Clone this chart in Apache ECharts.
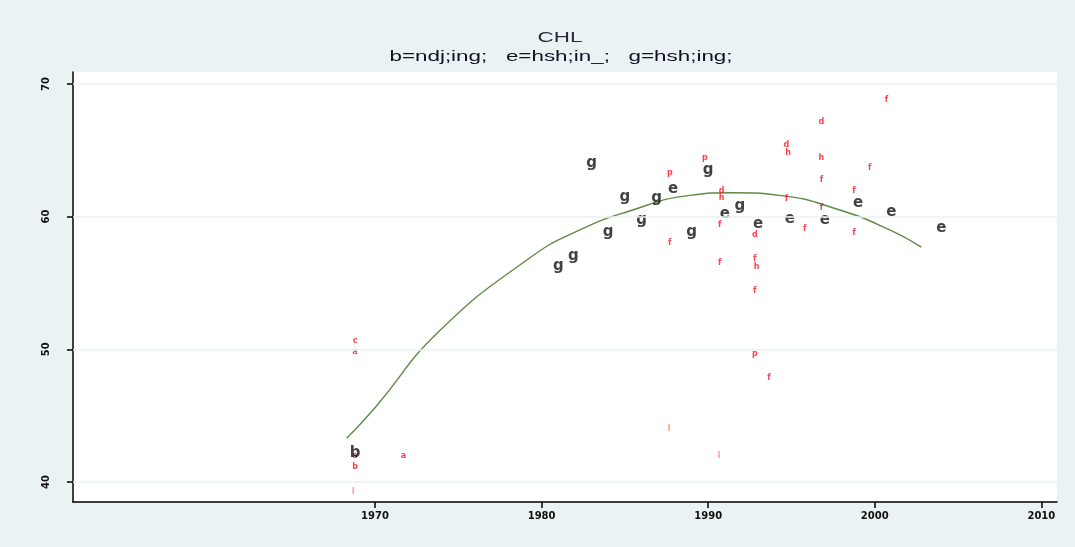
<!DOCTYPE html>
<html>
<head>
<meta charset="utf-8">
<script src="https://cdn.jsdelivr.net/npm/echarts@6/dist/echarts.min.js"></script>
<style>html,body{margin:0;padding:0;background:#fff}#c{width:1075px;height:547px}</style>
</head>
<body>
<div id="c"></div>
<script>
// Tick labels
const xTicks = [1970, 1980, 1990, 2000, 2010];
const yTicks = [40, 50, 60, 70];
const titleText = 'CHL';
const subtitleText = 'b=ndj;ing;   e=hsh;in_;   g=hsh;ing;';

// Large black letters
const ptsB = [[1968.8, 42.2]];
const ptsE = [[1987.9, 62.1], [1991.0, 60.2], [1993.0, 59.4], [1994.9, 59.8], [1997.0, 59.7], [1999.0, 61.0], [2001.0, 60.35], [2004.0, 59.15]];
const ptsG = [[1983.0, 64.0], [1985.0, 61.5], [1986.9, 61.4], [1984.0, 58.85], [1986.0, 59.75], [1981.0, 56.3], [1981.9, 57.0], [1989.0, 58.85], [1990.0, 63.5], [1991.9, 60.8]];

// Small red letters
const ptsRa = [[1968.8, 49.8], [1968.8, 42.0], [1971.7, 42.0]];
const ptsRb = [[1968.8, 41.1]];
const ptsRc = [[1968.8, 50.6]];
const ptsRd = [[1990.8, 61.9], [1992.8, 58.6], [1994.7, 65.4], [1996.8, 67.1]];
const ptsRh = [[1990.8, 61.4], [1992.9, 56.2], [1994.8, 64.8], [1996.8, 64.4]];
const ptsRp = [[1987.7, 63.3], [1989.8, 64.4], [1992.8, 49.65]];
const ptsRf = [[1987.7, 58.0], [1990.7, 59.4], [1990.7, 56.5], [1992.8, 56.8], [1992.8, 54.4], [1993.65, 47.85],
               [1994.7, 61.3], [1995.8, 59.1], [1996.8, 62.8], [1996.8, 60.65], [1998.75, 61.9], [1998.75, 58.8],
               [1999.7, 63.7], [2000.7, 68.8]];
const ptsRl = [[1968.7, 39.3], [1987.65, 44.0], [1990.65, 42.0]];

// Fitted curve
const fitLine = [[1968.3, 43.3], [1970.0, 45.6], [1973.8, 51.3], [1979.3, 56.9], [1982.3, 59.0], [1985.1, 60.35],
                 [1988.9, 61.6], [1991.5, 61.8], [1994.3, 61.6], [1997.9, 60.5], [2000.9, 59.0], [2002.8, 57.7]];

function letterSeries(name, data, txt, color, size, weight, z) {
  return {
    name: name, type: 'scatter', data: data, symbolSize: 1,
    itemStyle: { color: 'rgba(0,0,0,0)' },
    label: { show: true, position: 'inside', formatter: txt, color: color, fontSize: size, fontWeight: weight,
             fontFamily: 'DejaVu Sans, sans-serif' },
    emphasis: { disabled: true }, silent: true, z: z || 3
  };
}

const chart = echarts.init(document.getElementById('c'));
chart.setOption({
  animation: false,
  backgroundColor: '#EAF2F3',
  graphic: [
    { type: 'text', x: 560, y: 38, scaleX: 1.6, silent: true,
      style: { text: titleText, x: 0, y: 0, align: 'center', verticalAlign: 'middle', fill: '#2a2a3a',
               font: '14px "Liberation Sans", Arial, sans-serif' } },
    { type: 'text', x: 561, y: 57, scaleX: 1.6, silent: true,
      style: { text: subtitleText, x: 0, y: 0, align: 'center', verticalAlign: 'middle', fill: '#111122',
               font: '14px "Liberation Sans", Arial, sans-serif' } }
  ],
  grid: { left: 73, right: 18, top: 72, bottom: 45, show: true, backgroundColor: '#ffffff', borderWidth: 0 },
  xAxis: {
    type: 'value', min: 1951.87, max: 2010.94,
    axisLine: { show: true, lineStyle: { color: '#000', width: 1.5 } },
    axisTick: { show: true, length: 6, customValues: xTicks, lineStyle: { color: '#000', width: 1.5 } },
    axisLabel: { customValues: xTicks, formatter: v => String(v), fontSize: 10, fontWeight: 'bold', color: '#111',
                 fontFamily: 'DejaVu Sans, sans-serif', margin: 9 },
    splitLine: { show: false }
  },
  yAxis: {
    type: 'value', min: 38.49, max: 70.9,
    axisLine: { show: true, lineStyle: { color: '#000', width: 1.5 } },
    axisTick: { show: true, length: 6, customValues: yTicks, lineStyle: { color: '#000', width: 1.5 } },
    axisLabel: { customValues: yTicks, formatter: v => String(v), fontSize: 10, fontWeight: 'bold', rotate: 90, color: '#111',
                 fontFamily: 'DejaVu Sans, sans-serif', margin: 22 },
    splitLine: { show: false }
  },
  series: [
    {
      type: 'line', data: yTicks.map(v => [1951.87, v]), symbol: 'none', lineStyle: { opacity: 0 }, silent: true,
      markLine: {
        silent: true, symbol: 'none', label: { show: false },
        lineStyle: { color: '#EAF2F3', width: 1.5, type: 'solid' },
        data: yTicks.map(v => ({ yAxis: v }))
      }
    },
    {
      name: 'fit', type: 'line', data: fitLine, smooth: true, symbol: 'none',
      lineStyle: { color: '#5E8A45', width: 1.4, type: 'solid' }, z: 2, silent: true
    },
    letterSeries('Ra', ptsRa, 'a', '#FF1020', 8, 'bold'),
    letterSeries('Rb', ptsRb, 'b', '#FF1020', 8, 'bold'),
    letterSeries('Rc', ptsRc, 'c', '#FF1020', 8, 'bold'),
    letterSeries('Rd', ptsRd, 'd', '#FF1020', 8, 'bold'),
    letterSeries('Rh', ptsRh, 'h', '#FF1020', 8, 'bold'),
    letterSeries('Rp', ptsRp, 'p', '#FF1020', 8, 'bold'),
    letterSeries('Rf', ptsRf, 'f', '#FF1020', 8, 'bold'),
    letterSeries('Rl', ptsRl, 'l', '#FF9070', 9, 'bold'),
    letterSeries('B', ptsB, 'b', '#111', 15, 'bold', 4),
    letterSeries('E', ptsE, 'e', '#111', 15, 'bold', 4),
    letterSeries('G', ptsG, 'g', '#111', 15, 'bold', 4)
  ]
});
</script>
</body>
</html>
